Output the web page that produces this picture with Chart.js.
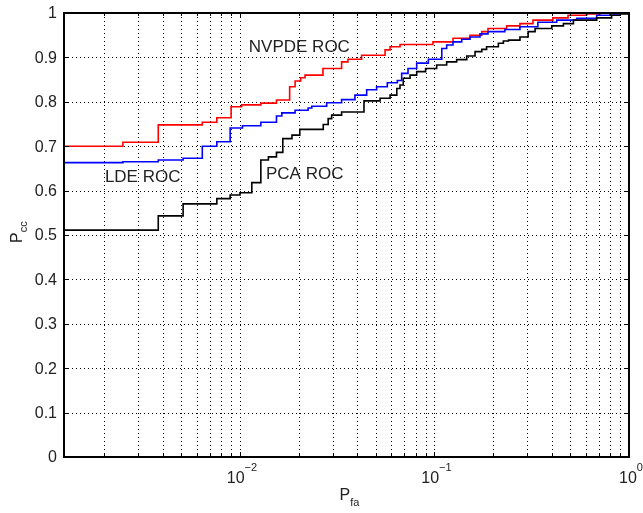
<!DOCTYPE html>
<html>
<head>
<meta charset="utf-8">
<script src="https://cdn.jsdelivr.net/npm/chart.js@4.4.1/dist/chart.umd.min.js"></script>
<style>
  html, body { margin: 0; padding: 0; background: #fff; }
  #wrap { width: 643px; height: 513px; }
</style>
</head>
<body>
<div id="wrap"><canvas id="rocChart"></canvas></div>
<script>
// ROC curves (x = Pfa, y = Pcc), step curves
var xMin = 0.001245;

var nvpdeX = [xMin, xMin, 0.0025, 0.0038, 0.0064, 0.0076, 0.009, 0.0102, 0.0128, 0.0154, 0.018, 0.0192, 0.0205, 0.0216, 0.0267, 0.0333, 0.0359, 0.0422, 0.0557, 0.0591, 0.0665, 0.0982, 0.1245, 0.1523, 0.175, 0.1884, 0.235, 0.275, 0.321, 0.406, 0.486, 0.605, 0.71, 1];
var nvpdeY = [0.52, 0.700, 0.709, 0.748, 0.754, 0.764, 0.789, 0.793, 0.797, 0.804, 0.834, 0.847, 0.854, 0.860, 0.875, 0.890, 0.896, 0.905, 0.917, 0.924, 0.929, 0.935, 0.943, 0.950, 0.958, 0.965, 0.971, 0.976, 0.984, 0.989, 0.995, 0.998, 1, 1];

var ldeX = [xMin, xMin, 0.0025, 0.0038, 0.0051, 0.0064, 0.0076, 0.0089, 0.0103, 0.0128, 0.0154, 0.0164, 0.0192, 0.0224, 0.0234, 0.0279, 0.0333, 0.039, 0.0448, 0.0504, 0.0572, 0.0644, 0.0678, 0.0731, 0.081, 0.093, 0.109, 0.1155, 0.1245, 0.138, 0.1523, 0.1714, 0.1884, 0.23, 0.275, 0.34, 0.425, 0.538, 0.682, 0.8, 0.9, 1];
var ldeY = [0.62, 0.663, 0.665, 0.669, 0.673, 0.700, 0.710, 0.741, 0.746, 0.754, 0.768, 0.775, 0.781, 0.786, 0.790, 0.798, 0.805, 0.815, 0.827, 0.834, 0.843, 0.848, 0.864, 0.875, 0.887, 0.896, 0.920, 0.928, 0.935, 0.941, 0.946, 0.953, 0.958, 0.963, 0.969, 0.979, 0.984, 0.988, 0.995, 0.998, 1, 1];

var pcaX = [xMin, xMin, 0.0038, 0.0051, 0.0076, 0.0089, 0.01, 0.0115, 0.0128, 0.014, 0.0154, 0.0166, 0.0185, 0.0203, 0.0268, 0.0284, 0.0296, 0.0333, 0.0434, 0.0525, 0.0591, 0.064, 0.0665, 0.0691, 0.0749, 0.081, 0.09, 0.1026, 0.1155, 0.130, 0.1465, 0.1616, 0.175, 0.1853, 0.213, 0.226, 0.240, 0.275, 0.303, 0.329, 0.401, 0.46, 0.518, 0.682, 0.814, 0.9, 1];
var pcaY = [0, 0.511, 0.543, 0.570, 0.582, 0.590, 0.595, 0.618, 0.669, 0.676, 0.686, 0.717, 0.725, 0.738, 0.749, 0.762, 0.770, 0.777, 0.802, 0.808, 0.815, 0.830, 0.838, 0.853, 0.860, 0.868, 0.875, 0.883, 0.890, 0.895, 0.903, 0.913, 0.918, 0.924, 0.932, 0.937, 0.939, 0.946, 0.958, 0.965, 0.971, 0.976, 0.984, 0.989, 0.995, 0.998, 1];

var yTicks = [0, 0.1, 0.2, 0.3, 0.4, 0.5, 0.6, 0.7, 0.8, 0.9, 1];
var xDecades = [-2, -1, 0];

// curve labels, placed in data units (left edge, middle of text)
var curveLabels = [
  { text: 'NVPDE ROC', x: 0.0111, y: 0.923 },
  { text: 'LDE ROC', x: 0.00202, y: 0.631 },
  { text: 'PCA ROC', x: 0.0136, y: 0.637 }
];

function toPoints(xs, ys) {
  return xs.map(function (x, i) { return { x: x, y: ys[i] }; });
}

var FONT = '"Liberation Sans", Arial, Helvetica, sans-serif';

var matlabAxes = {
  id: 'matlabAxes',
  beforeDatasetsDraw: function (chart) {
    var ctx = chart.ctx, a = chart.chartArea;
    var xs = chart.scales.x, ys = chart.scales.y;
    ctx.save();
    ctx.strokeStyle = '#000';
    ctx.lineWidth = 1;
    ctx.setLineDash([1, 3]);
    // y grid
    yTicks.forEach(function (v) {
      if (v === 0 || v === 1) return;
      var py = Math.round(ys.getPixelForValue(v)) + 0.5;
      ctx.beginPath(); ctx.moveTo(a.left, py); ctx.lineTo(a.right, py); ctx.stroke();
    });
    // x grid (log minor lines)
    for (var d = -3; d <= 0; d++) {
      for (var m = 1; m <= 9; m++) {
        var v = m * Math.pow(10, d);
        if (v <= xMin || v >= 1) continue;
        var px = Math.round(xs.getPixelForValue(v)) + 0.5;
        ctx.beginPath(); ctx.moveTo(px, a.top); ctx.lineTo(px, a.bottom); ctx.stroke();
      }
    }
    ctx.restore();
  },
  afterDraw: function (chart) {
    var ctx = chart.ctx, a = chart.chartArea;
    var xs = chart.scales.x, ys = chart.scales.y;
    ctx.save();
    ctx.strokeStyle = '#000';
    ctx.lineWidth = 1;
    ctx.setLineDash([]);
    // ticks, inward on all sides
    yTicks.forEach(function (v) {
      var py = Math.round(ys.getPixelForValue(v)) + 0.5;
      ctx.beginPath();
      ctx.moveTo(a.left, py); ctx.lineTo(a.left + 5, py);
      ctx.moveTo(a.right, py); ctx.lineTo(a.right - 5, py);
      ctx.stroke();
    });
    for (var d = -3; d <= 0; d++) {
      for (var m = 1; m <= 9; m++) {
        var v = m * Math.pow(10, d);
        if (v <= xMin || v > 1) continue;
        var px = Math.round(xs.getPixelForValue(v)) + 0.5;
        var len = m === 1 ? 5 : 3;
        ctx.beginPath();
        ctx.moveTo(px, a.bottom); ctx.lineTo(px, a.bottom - len);
        ctx.moveTo(px, a.top); ctx.lineTo(px, a.top + len);
        ctx.stroke();
      }
    }
    // frame
    ctx.lineWidth = 2;
    ctx.strokeRect(a.left, a.top, a.right - a.left, a.bottom - a.top);

    ctx.fillStyle = '#222';
    // y tick labels
    ctx.font = '16px ' + FONT;
    ctx.textAlign = 'right';
    ctx.textBaseline = 'middle';
    yTicks.forEach(function (v) {
      ctx.fillText(String(v), a.left - 7, ys.getPixelForValue(v) + 1);
    });
    // x tick labels 10^k
    ctx.textBaseline = 'alphabetic';
    xDecades.forEach(function (k) {
      var px = xs.getPixelForValue(Math.pow(10, k));
      ctx.font = '16px ' + FONT;
      var w1 = ctx.measureText('10').width;
      ctx.font = '11px ' + FONT;
      var exp = k === 0 ? '0' : '\u2212' + (-k);
      var w2 = ctx.measureText(exp).width;
      var left = px - (w1 + w2) / 2 + 2;
      ctx.textAlign = 'left';
      ctx.font = '16px ' + FONT;
      ctx.fillText('10', left, a.bottom + 26);
      ctx.font = '11px ' + FONT;
      ctx.fillText(exp, left + w1, a.bottom + 14);
    });
    // axis titles
    var cx = (a.left + a.right) / 2;
    ctx.font = '16px ' + FONT;
    ctx.textAlign = 'left';
    ctx.fillText('P', cx - 7, a.bottom + 43);
    var wp = ctx.measureText('P').width;
    ctx.font = '11px ' + FONT;
    ctx.fillText('fa', cx - 7 + wp, a.bottom + 49);

    ctx.save();
    ctx.translate(22, (a.top + a.bottom) / 2 + 8);
    ctx.rotate(-Math.PI / 2);
    ctx.font = '16px ' + FONT;
    ctx.fillText('P', 0, 0);
    ctx.font = '11px ' + FONT;
    ctx.fillText('cc', wp, 5);
    ctx.restore();

    // curve labels
    ctx.font = '17px ' + FONT;
    ctx.textAlign = 'left';
    ctx.textBaseline = 'middle';
    curveLabels.forEach(function (l) {
      ctx.fillText(l.text, xs.getPixelForValue(l.x), ys.getPixelForValue(l.y));
    });
    ctx.restore();
  }
};

var ctx = document.getElementById('rocChart').getContext('2d');
var rocChart = new Chart(ctx, {
  type: 'line',
  data: {
    datasets: [
      { label: 'PCA ROC', data: toPoints(pcaX, pcaY), borderColor: '#000000', borderWidth: 1.6, stepped: 'before', pointRadius: 0, fill: false },
      { label: 'LDE ROC', data: toPoints(ldeX, ldeY), borderColor: '#0000ff', borderWidth: 1.6, stepped: 'before', pointRadius: 0, fill: false },
      { label: 'NVPDE ROC', data: toPoints(nvpdeX, nvpdeY), borderColor: '#ff0000', borderWidth: 1.6, stepped: 'before', pointRadius: 0, fill: false }
    ]
  },
  options: {
    responsive: true,
    maintainAspectRatio: false,
    animation: false,
    layout: { padding: { left: 64, right: 14, top: 13, bottom: 56 } },
    plugins: { legend: { display: false }, tooltip: { enabled: false } },
    scales: {
      x: {
        type: 'logarithmic', min: xMin, max: 1,
        ticks: { display: false },
        grid: { display: false, drawTicks: false },
        border: { display: false }
      },
      y: {
        type: 'linear', min: 0, max: 1,
        ticks: { display: false },
        grid: { display: false, drawTicks: false },
        border: { display: false }
      }
    }
  },
  plugins: [matlabAxes]
});
</script>
</body>
</html>
